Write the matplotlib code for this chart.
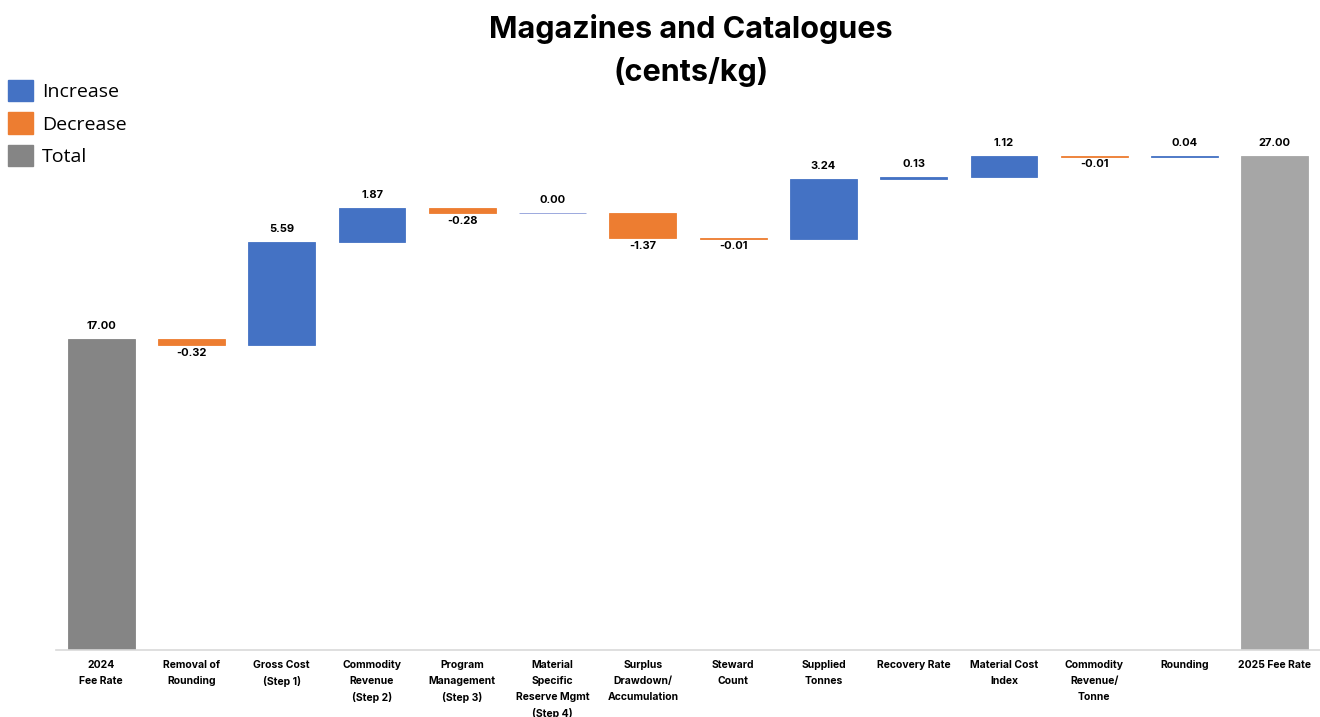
import numpy as np
import matplotlib.pyplot as plt
from matplotlib.patches import Patch

# Data
categories = ['2024\nFee Rate', 'Removal of\nRounding', 'Gross Cost\n(Step 1)', 'Commodity\nRevenue\n(Step 2)',
              'Program\nManagement\n(Step 3)', 'Material\nSpecific\nReserve Mgmt\n(Step 4)', 'Surplus\nDrawdown/\nAccumulation',
              'Steward\nCount', 'Supplied\nTonnes', 'Recovery Rate', 'Material Cost\nIndex', 'Commodity\nRevenue/\nTonne',
              'Rounding', '2025 Fee Rate']
values = [17.00, -0.32, 5.59, 1.87, -0.28, 0.00, -1.37, -0.01, 3.24, 0.13, 1.12, -0.01, 0.04, 27.00]
is_total = [True, False, False, False, False, False, False, False, False, False, False, False, False, True]

BLUE = '#4472C4'
ORANGE = '#ED7D31'
GREY = '#858585'
GREY_LIGHT = '#A6A6A6'

plt.rcParams['font.family'] = ['Inter', 'DejaVu Sans']

fig = plt.figure(figsize=(13.2, 7.17), dpi=100)
ax = fig.add_axes([56 / 1320, 1 - 650 / 717, 1 - 56 / 1320, 650 / 717])

x = np.arange(len(values))
running = 0.0
for i, (v, tot) in enumerate(zip(values, is_total)):
    if tot:
        bottom, height = 0, v
        color = GREY if i == 0 else GREY_LIGHT
        running = v
    else:
        bottom, height = running, v
        color = BLUE if v >= 0 else ORANGE
        running += v
    edge = '#8C9BD8' if v == 0 else color
    ax.bar(x[i], height, bottom=bottom, width=0.74, color=color, edgecolor=edge, linewidth=0.6)
    top = max(bottom, bottom + height)
    low = min(bottom, bottom + height)
    if tot or v >= 0:
        ax.annotate(f'{v:.2f}', (x[i], top), xytext=(0, 6), textcoords='offset points',
                    ha='center', va='bottom', fontsize=8, fontweight='bold')
    else:
        ax.annotate(f'{v:.2f}', (x[i], low), xytext=(0, -2), textcoords='offset points',
                    ha='center', va='top', fontsize=8, fontweight='bold')

ax.set_xlim(-0.5, 13.5)
ax.set_ylim(0, 35.52)
ax.set_xticks(x)
ax.set_xticklabels(categories, fontsize=7.5, fontweight='bold', linespacing=1.75)
ax.tick_params(axis='x', length=0, pad=7)
ax.set_yticks([])
for s in ['top', 'right', 'left']:
    ax.spines[s].set_visible(False)
ax.spines['bottom'].set_color('#D9D9D9')
ax.spines['bottom'].set_linewidth(1.2)

fig.text(691 / 1320, 1 - 14 / 717, 'Magazines and Catalogues\n(cents/kg)', ha='center', va='top',
         fontsize=22, fontweight='bold', linespacing=1.55)

handles = [Patch(color=BLUE, label='Increase'), Patch(color=ORANGE, label='Decrease'),
           Patch(color=GREY, label='Total')]
fig.legend(handles=handles, loc='upper left', bbox_to_anchor=(8 / 1320, 1 - 80 / 717), frameon=False,
           handlelength=1.3, handleheight=1.3, handletextpad=0.45, labelspacing=0.58,
           borderpad=0, borderaxespad=0, prop={'family': ['Open Sans', 'DejaVu Sans'], 'size': 14})

fig.savefig('out.png', dpi=100)
